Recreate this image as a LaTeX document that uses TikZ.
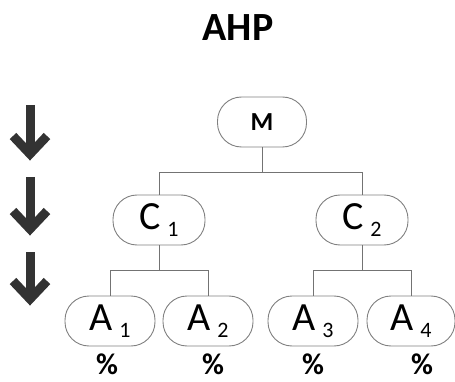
\documentclass[tikz,border=0pt]{standalone}
\usepackage{fontspec}
\setmainfont{Carlito}
\begin{document}
\begin{tikzpicture}[x=1pt,y=-1pt,
  box/.style={draw=black!50, line width=0.9pt, rounded corners=24pt, minimum width=89pt, minimum height=50pt, inner sep=0pt},
  conn/.style={draw=black!55, line width=0.9pt},
  bigarrow/.style={draw=black!80, line width=9pt, line join=miter},
  pct/.style={font=\fontsize{30}{30}\selectfont\bfseries, inner sep=0pt},
  lab/.style={font=\fontsize{40}{40}\selectfont}]
\useasboundingbox (0,0) rectangle (455,382);
\node[font=\fontsize{40}{40}\selectfont\bfseries] (title) at (238,28) {AHP};
\node[box, font=\fontsize{26}{26}\selectfont\bfseries] (M) at (262,122) {M};
\node[box, minimum width=92pt, lab] (C1) at (159,220) {C\,\raisebox{-0.35ex}{\fontsize{22}{22}\selectfont 1}};
\node[box, minimum width=92pt, lab] (C2) at (362,220) {C\,\raisebox{-0.35ex}{\fontsize{22}{22}\selectfont 2}};
\node[box, minimum width=90pt, lab] (A1) at (110,321) {A\,\raisebox{-0.35ex}{\fontsize{22}{22}\selectfont 1}};
\node[box, minimum width=90pt, lab] (A2) at (208,321) {A\,\raisebox{-0.35ex}{\fontsize{22}{22}\selectfont 2}};
\node[box, minimum width=90pt, lab] (A3) at (313,321) {A\,\raisebox{-0.35ex}{\fontsize{22}{22}\selectfont 3}};
\node[box, minimum width=88pt, lab] (A4) at (411,321) {A\,\raisebox{-0.35ex}{\fontsize{22}{22}\selectfont 4}};
\node[pct] (p1) at (107,364) {\%};
\node[pct] (p2) at (213,364) {\%};
\node[pct] (p3) at (313,364) {\%};
\node[pct] (p4) at (422,364) {\%};
% connectors
\draw[conn] (M.south) -- ++(0,25) -| (C1.north);
\draw[conn] (M.south) ++(0,25) -| (C2.north);
\draw[conn] (C1.south) -- ++(0,25) coordinate (j1);
\draw[conn] (j1) -| (A1.north);
\draw[conn] (j1) -| (A2.north);
\draw[conn] (C2.south) -- ++(0,25) coordinate (j2);
\draw[conn] (j2) -| (A3.north);
\draw[conn] (j2) -| (A4.north);
% arrows
\foreach \t/\b [count=\i] in {105/160, 177/235, 252/305}{
  \coordinate (ar\i) at (30,\b-6);
  \draw[bigarrow] (30,\t) -- (ar\i);
  \draw[bigarrow] (13,\b-24) -- (ar\i) -- (47,\b-24);
}
\end{tikzpicture}
\end{document}
